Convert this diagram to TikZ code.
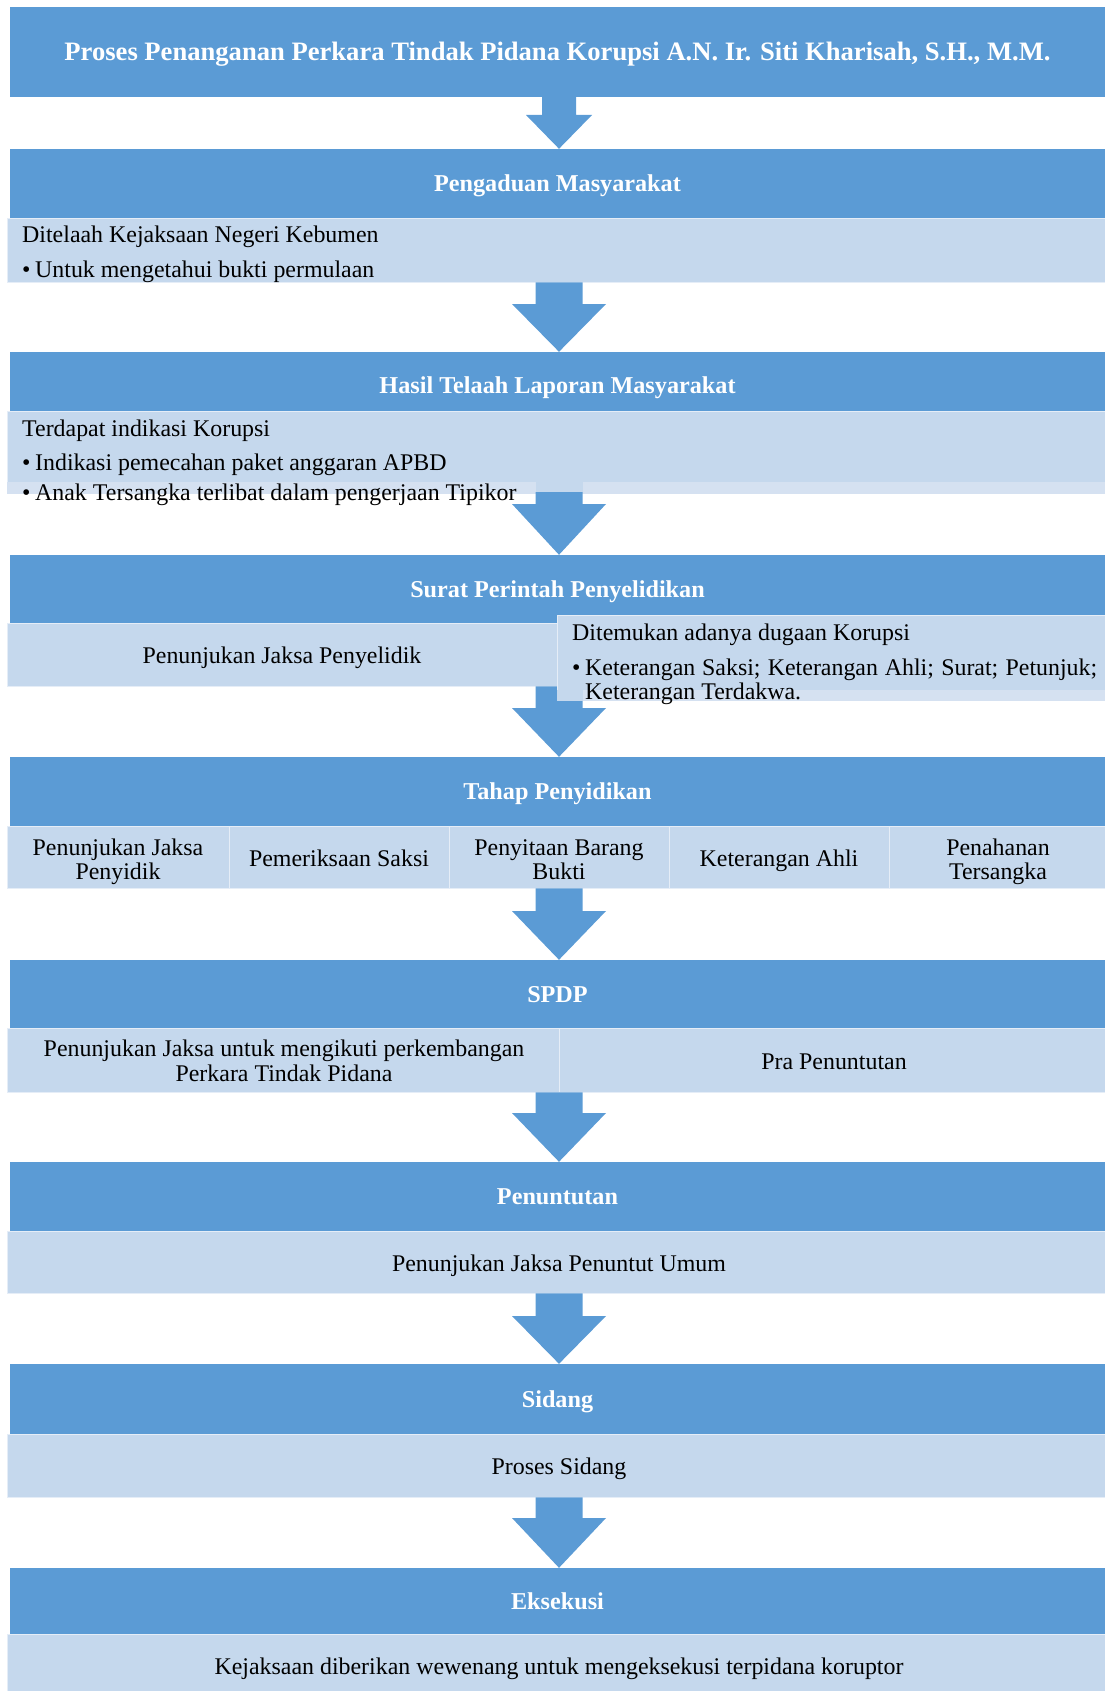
\documentclass[tikz,border=0pt]{standalone}
\usepackage{fontspec}
\setmainfont{Liberation Serif}
\usetikzlibrary{calc}
\definecolor{hdrc}{HTML}{5B9BD5}
\definecolor{lightc}{HTML}{C5D8ED}
\definecolor{stripc}{HTML}{D5E1F1}
\tikzset{
  hdr/.style={fill=hdrc, draw=none, inner sep=0pt, text=white,
    font=\fontsize{24.2}{27}\selectfont\bfseries, text height=16pt, text depth=0pt},
  ttl/.style={hdr, font=\fontsize{26.6}{29}\selectfont\bfseries, text height=17pt},
  lbox/.style={fill=lightc, draw=white!55!lightc, line width=0.8pt, inner sep=0pt},
  sbox/.style={fill=stripc, draw=none, inner sep=0pt},
  pbox/.style={fill=lightc, draw=none, inner sep=0pt},
  txt/.style={inner sep=0pt, anchor=base west, font=\fontsize{23.9}{25}\selectfont},
  ctxt/.style={inner sep=0pt, anchor=base, font=\fontsize{23.9}{25}\selectfont},
  arr/.style={fill=hdrc}
}
\newcommand\boxnode[7]{\node[#1, minimum width={(#5)-(#3)}, minimum height={(#6)-(#4)}] (#2) at ({((#3)+(#5))/2},{((#4)+(#6))/2}) {#7};}
% #1 from, #2 to, #3 head top y, #4 shaft half width, #5 head half width
\newcommand\blockarrow[5]{\fill[arr] ({559-#4},0 |- #1.south) -- ({559+#4},0 |- #1.south) -- ({559+#4},#3) -- ({559+#5},#3) -- (559,0 |- #2.north) -- ({559-#5},#3) -- ({559-#4},#3) -- cycle;}
\newcommand\bul{\makebox[13pt][l]{•}}
\begin{document}
\begin{tikzpicture}[x=1pt,y=-1pt]
\useasboundingbox (0,0) rectangle (1105,1691);
% title
\boxnode{ttl}{title}{10}{7}{1105}{97}{Proses Penanganan Perkara Tindak Pidana Korupsi A.N. Ir. Siti Kharisah, S.H., M.M.}
% 1
\boxnode{hdr}{h1}{10}{149}{1105}{218}{Pengaduan Masyarakat}
\boxnode{lbox}{l1}{7}{218}{1105}{282}{}
\node[txt] (t1a) at (22,242) {Ditelaah Kejaksaan Negeri Kebumen};
\node[txt] (t1b) at (22,277) {\bul Untuk mengetahui bukti permulaan};
% 2
\boxnode{hdr}{h2}{10}{352}{1105}{411}{\raisebox{-3.5pt}{Hasil Telaah Laporan Masyarakat}}
\boxnode{lbox}{l2}{7}{411}{1105}{482}{}
\boxnode{sbox}{s2}{7}{482}{1105}{494}{}
\boxnode{pbox}{p2}{536}{482}{583}{492}{}
\node[txt] (t2a) at (22,436) {Terdapat indikasi Korupsi};
\node[txt] (t2b) at (22,470) {\bul Indikasi pemecahan paket anggaran APBD};
\node[txt] (t2c) at (22,500) {\bul Anak Tersangka terlibat dalam pengerjaan Tipikor};
% 3
\boxnode{hdr}{h3}{10}{555}{1105}{623}{Surat Perintah Penyelidikan}
\boxnode{lbox}{l3a}{7}{623}{557}{686}{}
\node[ctxt] (t3l) at (282,663) {Penunjukan Jaksa Penyelidik};
% 4
\boxnode{hdr}{h4}{10}{757}{1105}{826}{Tahap Penyidikan}
\boxnode{lbox}{l4a}{7}{826}{229}{888}{}
\boxnode{lbox}{l4b}{229}{826}{449}{888}{}
\boxnode{lbox}{l4c}{449}{826}{669.5}{888}{}
\boxnode{lbox}{l4d}{669.5}{826}{889}{888}{}
\boxnode{lbox}{l4e}{889}{826}{1105}{888}{}
\node[ctxt] (t4a1) at (118,855) {Penunjukan Jaksa};
\node[ctxt] (t4a2) at (118,879) {Penyidik};
\node[ctxt] (t4b) at (339,866) {Pemeriksaan Saksi};
\node[ctxt] (t4c1) at (559,855) {Penyitaan Barang};
\node[ctxt] (t4c2) at (559,879) {Bukti};
\node[ctxt] (t4d) at (779,866) {Keterangan Ahli};
\node[ctxt] (t4e1) at (998,855) {Penahanan};
\node[ctxt] (t4e2) at (998,879) {Tersangka};
% 5
\boxnode{hdr}{h5}{10}{960}{1105}{1028}{SPDP}
\boxnode{lbox}{l5a}{7}{1028}{559}{1092}{}
\boxnode{lbox}{l5b}{559}{1028}{1105}{1092}{}
\node[ctxt] (t5a1) at (284,1056) {Penunjukan Jaksa untuk mengikuti perkembangan};
\node[ctxt] (t5a2) at (284,1081) {Perkara Tindak Pidana};
\node[ctxt] (t5b) at (834,1069) {Pra Penuntutan};
% 6
\boxnode{hdr}{h6}{10}{1162}{1105}{1231}{Penuntutan}
\boxnode{lbox}{l6}{7}{1231}{1105}{1293}{}
\node[ctxt] (t6) at (559,1271) {Penunjukan Jaksa Penuntut Umum};
% 7
\boxnode{hdr}{h7}{10}{1364}{1105}{1434}{Sidang}
\boxnode{lbox}{l7}{7}{1434}{1105}{1497}{}
\node[ctxt] (t7) at (559,1474) {Proses Sidang};
% 8
\boxnode{hdr}{h8}{10}{1568}{1105}{1634}{Eksekusi}
\boxnode{lbox}{l8}{7}{1634}{1105}{1696}{}
\node[ctxt] (t8) at (559,1674) {Kejaksaan diberikan wewenang untuk mengeksekusi terpidana koruptor};
% arrows
\blockarrow{title}{h1}{115}{17}{33}
\blockarrow{l1}{h2}{304}{23.5}{47}
\blockarrow{p2}{h3}{504}{23.5}{47}
\blockarrow{l3a}{h4}{708}{23.5}{47}
\blockarrow{l4c}{h5}{911}{23.5}{47}
\blockarrow{l5a}{h6}{1113}{23.5}{47}
\blockarrow{l6}{h7}{1316}{23.5}{47}
\blockarrow{l7}{h8}{1518}{23.5}{47}
% right box of Surat Perintah (drawn over the arrow)
\boxnode{lbox}{l3b}{557}{615}{1105}{690}{}
\boxnode{sbox}{s3}{583}{690}{1105}{701}{}
\boxnode{pbox}{p3}{557}{690}{583}{701}{}
\node[txt] (t3a) at (572,640) {Ditemukan adanya dugaan Korupsi};
\node[txt] (t3b) at (572,675) {\bul\hbox to 512pt{Keterangan Saksi; Keterangan Ahli; Surat; Petunjuk;}};
\node[txt] (t3c) at (585,699) {Keterangan Terdakwa.};
\end{tikzpicture}
\end{document}
